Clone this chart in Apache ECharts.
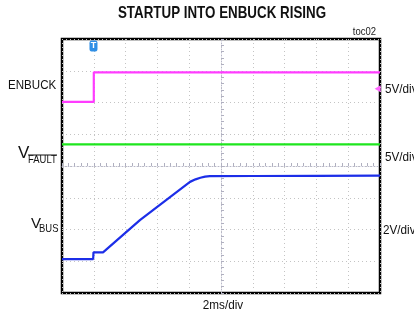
<!DOCTYPE html>
<html>
<head>
<meta charset="utf-8">
<script src="https://cdn.jsdelivr.net/npm/echarts@6/dist/echarts.min.js"></script>
<style>
html, body { margin: 0; padding: 0; background: #fff; }
#main { width: 414px; height: 316px; }
</style>
</head>
<body>
<div id="main"></div>
<script>
// scope screen: 10 div x 8 div, 2ms/div
var xTicks = [0, 2, 4, 6, 8, 10, 12, 14, 16, 18, 20]

// ENBUCK, 5V/div, zero at 6.02 div
var enbuckTime = [0, 2.0, 2.0, 20]
var enbuckVolt = [0, 0, 4.65, 4.65]
var enbuckZero = 6.02
var enbuckScale = 5

// VFAULT, 5V/div
var vfaultTime = [0, 20]
var vfaultVolt = [3.4, 3.4]
var vfaultZero = 4.0
var vfaultScale = 5

// VBUS, 2V/div, zero at 1.07 div
var vbusTime = [0, 1.96, 1.98, 2.58, 4.9, 8.05, 8.4, 8.7, 9.0, 9.3, 12, 16, 20]
var vbusVolt = [0, 0, 0.42, 0.42, 2.45, 4.86, 5.02, 5.12, 5.19, 5.22, 5.23, 5.24, 5.25]
var vbusZero = 1.07
var vbusScale = 2

function toPoints(t, v, zero, scale) {
    var out = []
    for (var i = 0; i < t.length; i++) {
        out.push([t[i], zero + v[i] / scale])
    }
    return out
}

var font = '"Liberation Sans", Arial, sans-serif'
var myChart = echarts.init(document.getElementById('main'))

var dotted = { color: '#c4c4c4', width: 1, type: [1, 3] }

myChart.setOption({
    animation: false,
    grid: {
        left: 62, top: 39, width: 318, height: 254,
        show: true, borderColor: '#000', borderWidth: 2.5, backgroundColor: '#fff'
    },
    xAxis: [{
        type: 'value', min: 0, max: 20, interval: 2,
        axisLine: { show: false }, axisTick: { show: false }, axisLabel: { show: false },
        splitLine: { show: true, lineStyle: dotted }
    }, {
        type: 'value', min: 0, max: 20, interval: 2, position: 'bottom', offset: -127,
        axisLine: { show: true, lineStyle: { color: '#b8b8c8', width: 1, type: [1, 2] } },
        axisTick: { show: true, inside: true, length: 3, lineStyle: { color: '#b0b0c0' } },
        minorTick: { show: true, splitNumber: 5, length: 3, lineStyle: { color: '#b0b0c0' } },
        axisLabel: { show: false }, splitLine: { show: false }
    }],
    yAxis: [{
        type: 'value', min: 0, max: 8, interval: 1,
        axisLine: { show: false }, axisTick: { show: false }, axisLabel: { show: false },
        splitLine: { show: true, lineStyle: dotted }
    }, {
        type: 'value', min: 0, max: 8, interval: 1, position: 'left', offset: -159,
        axisLine: { show: true, lineStyle: { color: '#b8b8c8', width: 1, type: [1, 2] } },
        axisTick: { show: true, inside: true, length: 3, lineStyle: { color: '#b0b0c0' } },
        minorTick: { show: true, splitNumber: 5, length: 3, lineStyle: { color: '#b0b0c0' } },
        axisLabel: { show: false }, splitLine: { show: false }
    }],
    series: [{
        name: 'ENBUCK', type: 'line', showSymbol: false,
        data: toPoints(enbuckTime, enbuckVolt, enbuckZero, enbuckScale),
        lineStyle: { color: '#ff3cff', width: 2.2 },
        markPoint: {
            silent: true,
            data: [{
                coord: [1.98, 7.78], symbol: 'roundRect', symbolSize: [8, 11],
                itemStyle: { color: '#2f8fe6' },
                label: { show: true, position: 'inside', formatter: 'T', color: '#fff', fontSize: 9, fontWeight: 'bold', fontFamily: font }
            }, {
                coord: [19.85, 6.43], symbol: 'triangle', symbolSize: [7, 6], symbolRotate: 90,
                itemStyle: { color: '#ff66ff' }, label: { show: false }
            }]
        }
    }, {
        name: 'VFAULT', type: 'line', showSymbol: false,
        data: toPoints(vfaultTime, vfaultVolt, vfaultZero, vfaultScale),
        lineStyle: { color: '#1ee61e', width: 2.2 }
    }, {
        name: 'VBUS', type: 'line', showSymbol: false,
        data: toPoints(vbusTime, vbusVolt, vbusZero, vbusScale),
        lineStyle: { color: '#1c2ee8', width: 2.2 }
    }],
    graphic: [
        { type: 'text', x: 222, y: 13.5, scaleX: 0.81, style: { text: 'STARTUP INTO ENBUCK RISING', font: 'bold 16.5px ' + font, fill: '#111', textAlign: 'center', textVerticalAlign: 'middle' } },
        { type: 'text', x: 376, y: 32, scaleX: 0.95, style: { text: 'toc02', font: '10px ' + font, fill: '#222', textAlign: 'right', textVerticalAlign: 'middle' } },
        { type: 'text', x: 8, y: 85, scaleX: 0.89, style: { text: 'ENBUCK', font: '13px ' + font, fill: '#111', textVerticalAlign: 'middle' } },
        { type: 'text', x: 18, y: 153.5, style: { text: 'V', font: '17px ' + font, fill: '#111', textVerticalAlign: 'middle' } },
        { type: 'text', x: 28, y: 160, scaleX: 0.9, style: { text: 'FAULT', font: '10.5px ' + font, fill: '#111', textVerticalAlign: 'middle' } },
        { type: 'line', shape: { x1: 28, y1: 155, x2: 57, y2: 155 }, style: { stroke: '#111', lineWidth: 1 } },
        { type: 'text', x: 31, y: 224, style: { text: 'V', font: '15px ' + font, fill: '#111', textVerticalAlign: 'middle' } },
        { type: 'text', x: 39, y: 229, scaleX: 0.9, style: { text: 'BUS', font: '10.5px ' + font, fill: '#111', textVerticalAlign: 'middle' } },
        { type: 'text', x: 385, y: 89, scaleX: 0.9, style: { text: '5V/div', font: '13px ' + font, fill: '#111', textVerticalAlign: 'middle' } },
        { type: 'text', x: 385, y: 157, scaleX: 0.9, style: { text: '5V/div', font: '13px ' + font, fill: '#111', textVerticalAlign: 'middle' } },
        { type: 'text', x: 383, y: 230, scaleX: 0.9, style: { text: '2V/div', font: '13px ' + font, fill: '#111', textVerticalAlign: 'middle' } },
        { type: 'text', x: 223, y: 305, scaleX: 0.9, style: { text: '2ms/div', font: '13px ' + font, fill: '#111', textAlign: 'center', textVerticalAlign: 'middle' } }
    ]
})
</script>
</body>
</html>
